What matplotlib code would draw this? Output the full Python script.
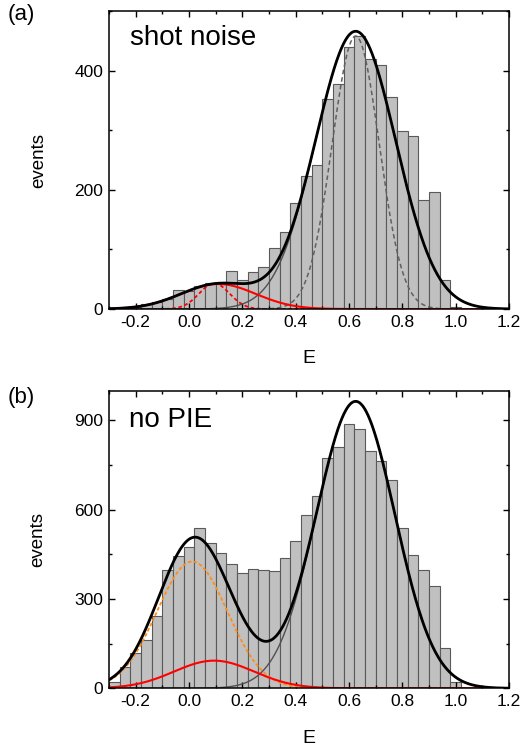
import numpy as np
import matplotlib
matplotlib.use("Agg")
import matplotlib.pyplot as plt
from matplotlib.ticker import MultipleLocator

plt.rcParams["font.family"] = ["Liberation Sans", "DejaVu Sans"]

# histogram bins (centres, width 0.04)
e_bins = [-0.28, -0.24, -0.20, -0.16, -0.12, -0.08, -0.04, 0.00, 0.04, 0.08,
          0.12, 0.16, 0.20, 0.24, 0.28, 0.32, 0.36, 0.40, 0.44, 0.48,
          0.52, 0.56, 0.60, 0.64, 0.68, 0.72, 0.76, 0.80, 0.84, 0.88,
          0.92, 0.96, 1.00]
bin_width = 0.04

counts_shot = [1, 2, 4, 8, 12, 17, 32, 31, 38, 43,
               43, 63, 48, 62, 70, 102, 129, 178, 224, 242,
               352, 378, 440, 458, 419, 409, 356, 298, 291, 183,
               196, 49, 4]

counts_nopie = [22, 73, 118, 163, 244, 398, 446, 475, 537, 487,
                454, 418, 388, 400, 398, 395, 438, 496, 584, 647,
                773, 811, 889, 872, 798, 764, 699, 538, 449, 398,
                344, 137, 20]

# fitted gaussian components: (amplitude, centre, sigma)
shot_main = (466, 0.625, 0.150)      # grey solid
shot_low = (42, 0.110, 0.140)        # red solid
shot_main_sn = (458, 0.625, 0.088)   # grey dashed (shot noise limit)
shot_low_sn = (43, 0.095, 0.057)     # red dashed (shot noise limit)

nopie_main = (964, 0.625, 0.147)     # grey solid
nopie_low = (93, 0.094, 0.150)       # red solid
nopie_donly = (426, 0.012, 0.132)    # orange dashed


def gauss(x, p):
    a, c, s = p
    return a * np.exp(-(x - c) ** 2 / (2 * s ** 2))


def style_axes(ax, ymax, ymajor):
    ax.set_xlim(-0.3, 1.2)
    ax.set_ylim(0, ymax)
    ax.xaxis.set_major_locator(MultipleLocator(0.2))
    ax.xaxis.set_minor_locator(MultipleLocator(0.1))
    ax.yaxis.set_major_locator(MultipleLocator(ymajor))
    ax.yaxis.set_minor_locator(MultipleLocator(ymajor / 2))
    ax.xaxis.set_major_formatter(plt.FuncFormatter(lambda v, _: f"{v:.1f}".replace("-0.0", "0.0")))
    ax.tick_params(which="both", direction="out", labelsize=12.5, width=1.0, pad=4)
    ax.tick_params(which="major", length=4)
    ax.tick_params(which="minor", length=2.5)
    ax.tick_params(right=True, which="both")
    ax.tick_params(top=True, which="both", direction="in")
    for sp in ax.spines.values():
        sp.set_linewidth(1.1)
    ax.set_xlabel("E", fontsize=14, labelpad=15)
    ax.set_ylabel("events", fontsize=13.5, labelpad=20)


x = np.linspace(-0.3, 1.2, 600)

fig = plt.figure(figsize=(5.32, 7.49), dpi=100)
ax1 = fig.add_axes([0.2049, 0.5874, 0.7519, 0.3979])
ax2 = fig.add_axes([0.2049, 0.0810, 0.7519, 0.3974])

bar_kw = dict(width=bin_width, color="#c0c0c0", edgecolor="#5a5a5a", linewidth=0.8)

# (a) shot noise
ax1.bar(e_bins, counts_shot, **bar_kw)
ax1.plot(x, gauss(x, shot_low_sn), color="red", lw=1.3, ls=(0, (2, 1.5)))
ax1.plot(x, gauss(x, shot_main_sn), color="#606060", lw=1.1, ls=(0, (3, 2)))
ax1.plot(x, gauss(x, shot_main), color="#505050", lw=1.0)
ax1.plot(x, gauss(x, shot_low), color="red", lw=1.5)
ax1.plot(x, gauss(x, shot_main) + gauss(x, shot_low), color="black", lw=2.0)
style_axes(ax1, 500, 200)
ax1.text(0.053, 0.886, "shot noise", transform=ax1.transAxes, fontsize=20, va="baseline")

# (b) no PIE
ax2.bar(e_bins, counts_nopie, **bar_kw)
ax2.plot(x, gauss(x, nopie_donly), color="#ff8c1a", lw=1.3, ls=(0, (2, 1.2)))
ax2.plot(x, gauss(x, nopie_main), color="#505050", lw=1.0)
ax2.plot(x, gauss(x, nopie_low), color="red", lw=1.5)
ax2.plot(x, gauss(x, nopie_main) + gauss(x, nopie_low) + gauss(x, nopie_donly),
         color="black", lw=2.0)
style_axes(ax2, 1000, 300)
ax2.text(0.051, 0.878, "no PIE", transform=ax2.transAxes, fontsize=20, va="baseline")

fig.text(0.015, 0.995, "(a)", fontsize=16, va="top")
fig.text(0.015, 0.483, "(b)", fontsize=16, va="top")

fig.savefig("out.png", dpi=100)
